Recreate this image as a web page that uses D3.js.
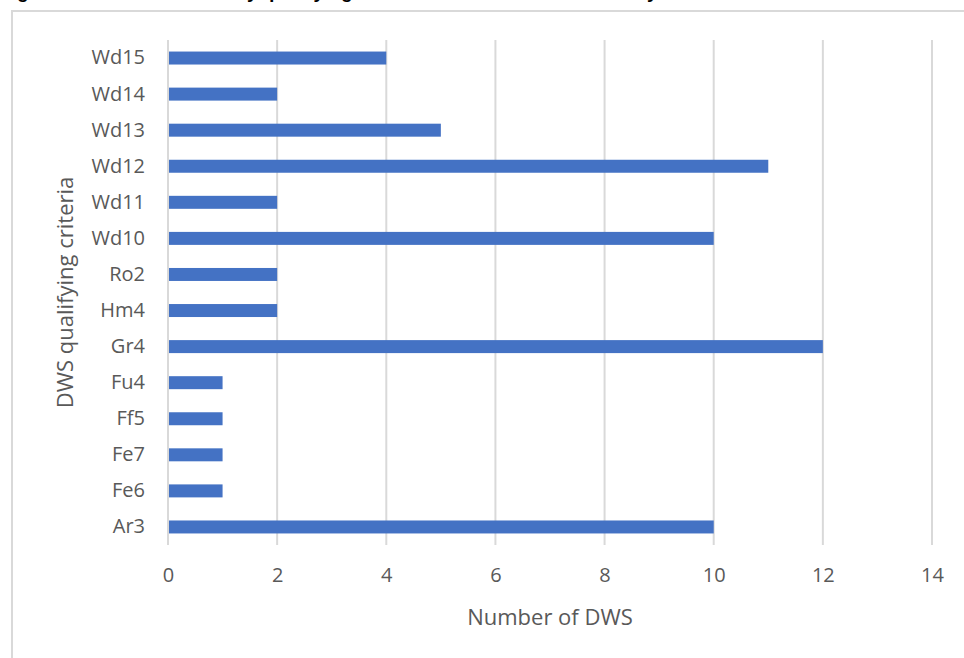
<!DOCTYPE html>
<html>
<head>
<meta charset="utf-8">
<script src="https://cdn.jsdelivr.net/npm/d3@7"></script>
<style>
  html, body { margin: 0; padding: 0; background: #fff; overflow: hidden; }
  svg { display: block; }
</style>
</head>
<body>
<svg id="chart" width="964" height="658"></svg>
<script>
const categories = ["Wd15", "Wd14", "Wd13", "Wd12", "Wd11", "Wd10", "Ro2", "Hm4", "Gr4", "Fu4", "Ff5", "Fe7", "Fe6", "Ar3"];
const values = [4, 2, 5, 11, 2, 10, 2, 2, 12, 1, 1, 1, 1, 10];
const xTicks = [0, 2, 4, 6, 8, 10, 12, 14];
const xTitle = "Number of DWS";
const yTitle = "DWS qualifying criteria";
const chartTitle = "Figure 4: Number of DWS by qualifying criteria for the whole of the study area";

(function () {
const svg = d3.select("#chart");
const font = "'Open Sans', 'Noto Sans', sans-serif";

// chart frame border
svg.append("rect")
  .attr("x", 12).attr("y", 11)
  .attr("width", 970).attr("height", 670)
  .attr("fill", "#fff").attr("stroke", "#d9d9d9").attr("stroke-width", 2);

// title lying above the cropped picture: only its descenders show
svg.append("text")
  .attr("x", 0).attr("y", -2)
  .attr("font-family", "'Liberation Sans', sans-serif")
  .attr("font-weight", "bold").attr("font-size", 19)
  .attr("fill", "#000")
  .text(chartTitle);

const pLeft = 168, pRight = 932, pTop = 40, pBottom = 545;

const x = d3.scaleLinear().domain([0, 14]).range([pLeft, pRight]);
const y = d3.scaleBand().domain(categories).range([pTop, pBottom]).paddingInner(0.64).paddingOuter(0.32);

// gridlines
svg.append("g").selectAll("line").data(xTicks).join("line")
  .attr("x1", d => x(d)).attr("x2", d => x(d))
  .attr("y1", pTop).attr("y2", pBottom)
  .attr("stroke", "#d9d9d9").attr("stroke-width", 2);

// bars
svg.append("g").selectAll("rect").data(categories).join("rect")
  .attr("x", x(0) + 1)
  .attr("y", d => y(d))
  .attr("width", (d, i) => x(values[i]) - x(0) - 1)
  .attr("height", y.bandwidth())
  .attr("fill", "#4472c4");

// x axis labels
const xAxis = d3.axisBottom(x).tickValues(xTicks).tickSize(0).tickPadding(0);
const gx = svg.append("g").attr("transform", `translate(0,${pBottom + 23})`).call(xAxis);
gx.select(".domain").remove();
gx.selectAll("text").attr("font-family", font).attr("font-size", 20).attr("fill", "#595959");

// y axis labels
const yAxis = d3.axisLeft(y).tickSize(0).tickPadding(0);
const gy = svg.append("g").attr("transform", `translate(${pLeft - 23},0)`).call(yAxis);
gy.select(".domain").remove();
gy.selectAll("text").attr("font-family", font).attr("font-size", 20).attr("fill", "#595959");

// axis titles
svg.append("text")
  .attr("x", (pLeft + pRight) / 2).attr("y", 625)
  .attr("text-anchor", "middle")
  .attr("font-family", font).attr("font-size", 22).attr("fill", "#595959")
  .text(xTitle);

svg.append("text")
  .attr("transform", `translate(73,${(pTop + pBottom) / 2}) rotate(-90)`)
  .attr("text-anchor", "middle")
  .attr("font-family", font).attr("font-size", 22).attr("fill", "#595959")
  .text(yTitle);
})();
</script>
</body>
</html>
